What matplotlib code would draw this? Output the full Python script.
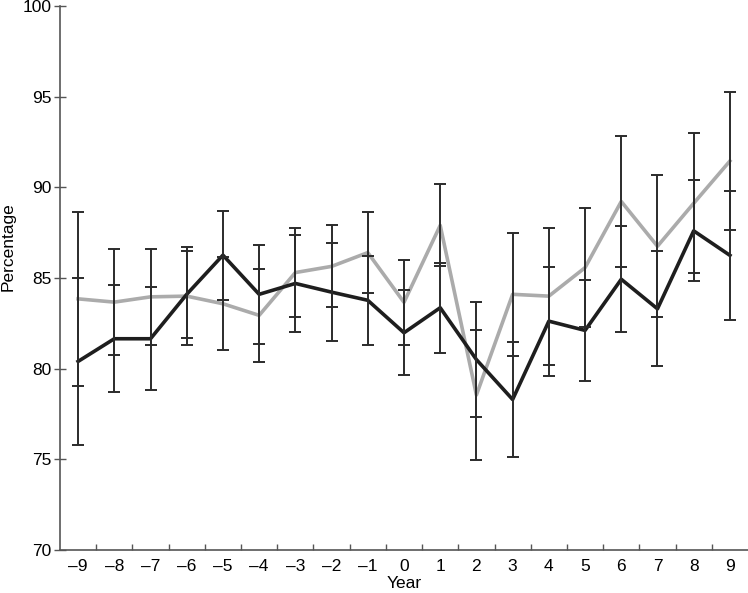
import numpy as np
import matplotlib
matplotlib.use("Agg")
import matplotlib.pyplot as plt

plt.rcParams['font.family'] = ['Liberation Sans', 'DejaVu Sans']

years = list(range(-9, 10))
year_labels = [('\u2013' + str(-y)) if y < 0 else str(y) for y in years]

# dark series and its error half-widths
dark = [80.4, 81.65, 81.65, 84.1, 86.26, 84.1, 84.7, 84.22, 83.77, 81.98, 83.36,
        80.5, 78.3, 82.62, 82.11, 84.93, 83.3, 87.6, 86.25]
dark_err = [4.6, 2.95, 2.83, 2.4, 2.45, 2.74, 2.69, 2.7, 2.44, 2.35, 2.49,
            3.17, 3.15, 3.0, 2.78, 2.92, 3.18, 2.78, 3.55]

# light series and its error half-widths
light = [83.85, 83.67, 83.96, 84.0, 83.58, 82.94, 85.3, 85.64, 86.4, 83.66, 87.9,
         78.55, 84.1, 84.0, 85.57, 89.22, 86.75, 89.12, 91.45]
light_err = [4.8, 2.93, 2.63, 2.7, 2.56, 2.58, 2.45, 2.26, 2.22, 2.35, 2.26,
             3.6, 3.38, 3.78, 3.27, 3.63, 3.92, 3.85, 3.83]

fig = plt.figure(figsize=(7.48, 5.93), dpi=100)
ax = fig.add_axes([0.0802, 0.0725, 0.9198, 0.9174])

ax.plot(years, light, color='#ababab', lw=2.6, zorder=2)
ax.plot(years, dark, color='#1e1e1e', lw=2.6, zorder=3)
ax.errorbar(years, light, yerr=light_err, fmt='none', ecolor='#2b2b2b',
            elinewidth=1.4, capsize=4.5, capthick=1.4, zorder=4)
ax.errorbar(years, dark, yerr=dark_err, fmt='none', ecolor='#2b2b2b',
            elinewidth=1.4, capsize=4.5, capthick=1.4, zorder=4)

ax.set_xlim(-9.5, 9.5)
ax.set_ylim(70, 100)
ax.set_xticks(years)
ax.set_xticklabels(year_labels)
ax.set_xticks(np.arange(-8.5, 9.0, 1.0), minor=True)
ax.set_yticks(range(70, 101, 5))

ax.tick_params(axis='x', which='major', length=0, labelsize=12.5, pad=6.5)
ax.tick_params(axis='x', which='minor', direction='in', length=4, width=1, color='#555555')
ax.tick_params(axis='y', direction='inout', length=8, width=1, color='#555555',
               labelsize=12.5, pad=2)

for side in ['top', 'right']:
    ax.spines[side].set_visible(False)
for side in ['left', 'bottom']:
    ax.spines[side].set_color('#555555')
    ax.spines[side].set_linewidth(1.2)

ax.set_xlabel('Year', fontsize=12.5, labelpad=1.5)
ax.set_ylabel('Percentage', fontsize=12.5)
ax.yaxis.set_label_coords(-0.064, 0.557)

fig.savefig('out.png', dpi=100)
